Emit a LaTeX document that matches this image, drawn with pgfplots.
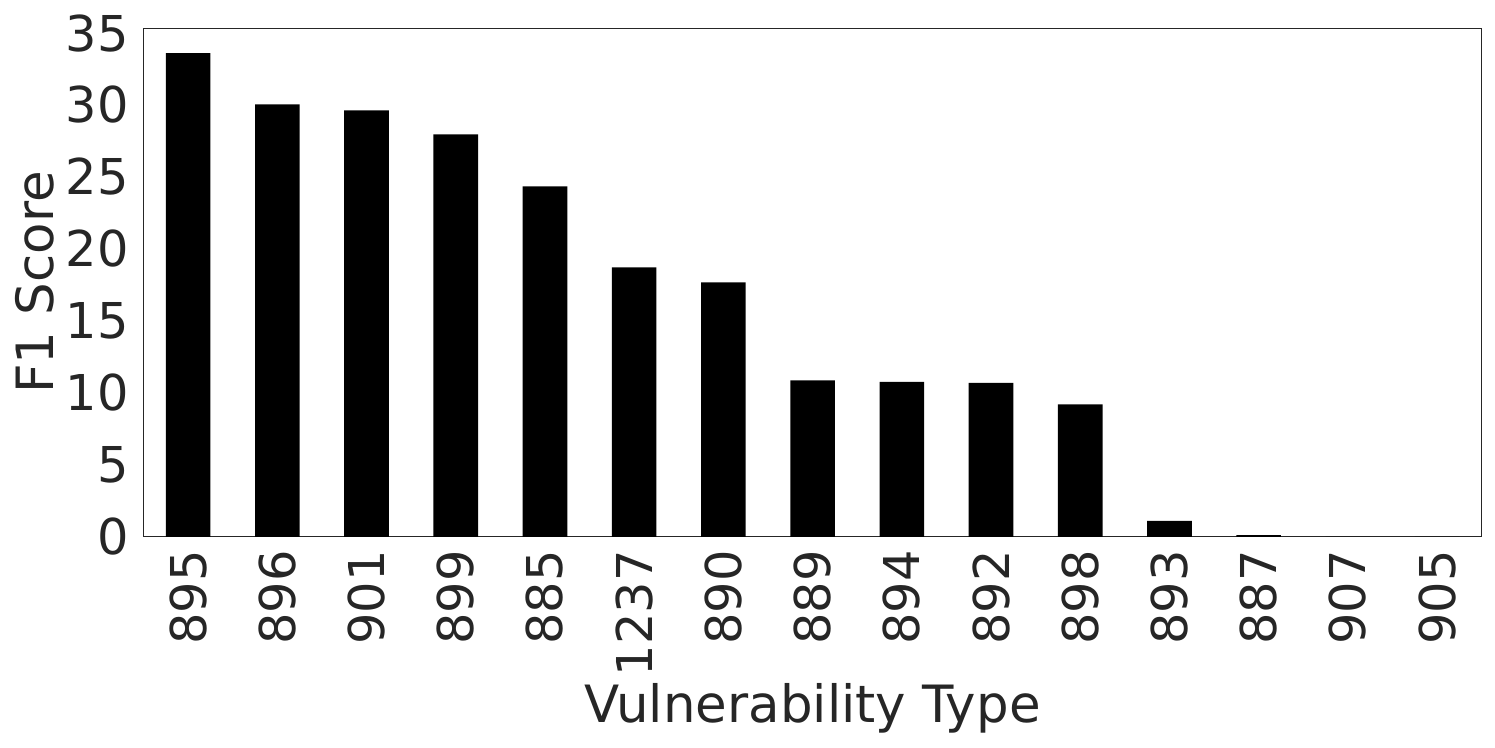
\documentclass[border=0pt]{standalone}
\usepackage{pgfplots}
\pgfplotsset{compat=1.18}
\usepackage{fontspec}
\setmainfont{DejaVu Sans}
\definecolor{txt}{gray}{0.15}
\begin{document}
\fontsize{25.5}{30}\selectfont
\begin{tikzpicture}
\begin{axis}[
  name=ax,
  scale only axis,
  width=669pt, height=254.2pt,
  xmin=-0.5, xmax=14.5,
  ymin=0, ymax=35.33,
  xtick={0,...,14},
  xticklabels={895,896,901,899,885,1237,890,889,894,892,898,893,887,907,905},
  ytick={0,5,...,35},
  major tick length=0pt,
  axis line style={draw=txt, line width=0.6pt},
  /pgf/number format/assume math mode=true,
  tick label style={font=\fontsize{24.7}{30}\selectfont, text=txt},
  xticklabel style={rotate=90, anchor=east, inner sep=0pt, xshift=-6.6pt},
  yticklabel style={anchor=east, inner sep=0pt, xshift=-7.2pt},
  xlabel={Vulnerability Type},
  ylabel={F1 Score},
  every axis x label/.style={at={(axis description cs:0.5,0)}, anchor=base, inner sep=0pt, yshift=-93pt, font=\fontsize{25.7}{30}\selectfont, text=txt},
  every axis y label/.style={at={(axis description cs:0,0.5)}, xshift=-45pt, rotate=90, anchor=base, inner sep=0pt, font=\fontsize{25.7}{30}\selectfont, text=txt},
  ybar, bar width=0.5, bar shift=0pt,
]
\addplot[fill=black, draw=none] coordinates {
(0,33.6) (1,30.05) (2,29.63) (3,27.96) (4,24.35) (5,18.72) (6,17.68) (7,10.87) (8,10.77) (9,10.70) (10,9.20) (11,1.11) (12,0.12) (13,0) (14,0)
};
\end{axis}
\path ([xshift=-71.75pt,yshift=-105.15pt]ax.south west) rectangle ([xshift=6.65pt,yshift=14.15pt]ax.north east);
\end{tikzpicture}
\end{document}
